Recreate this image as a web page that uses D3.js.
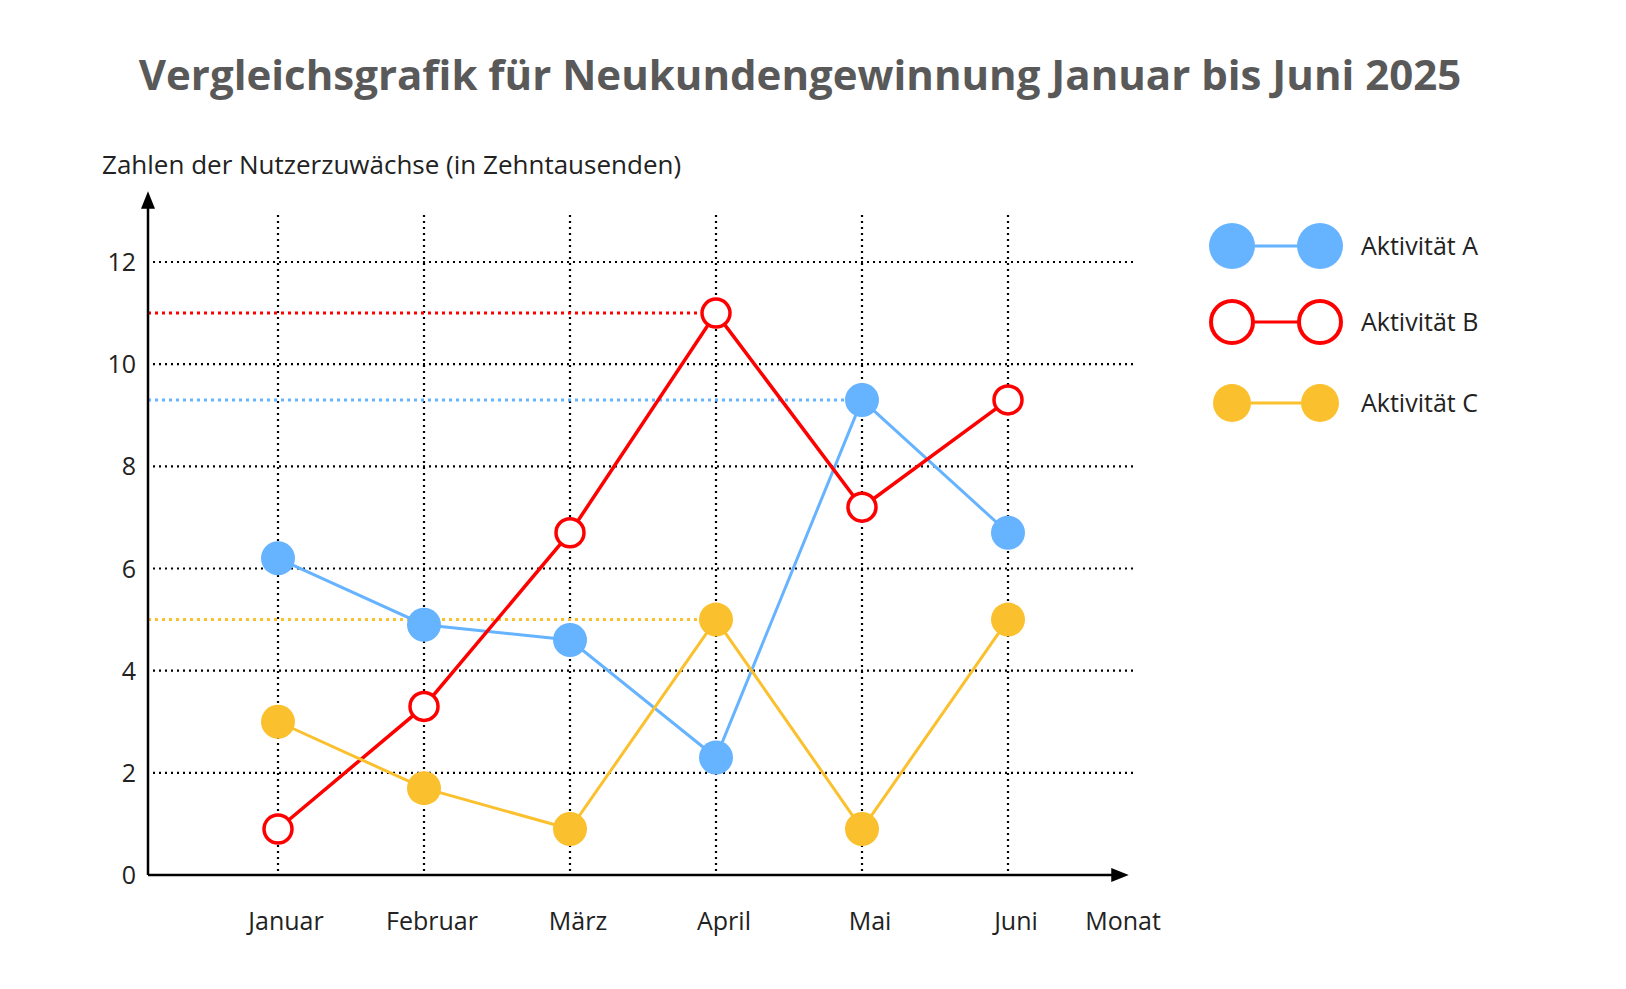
<!DOCTYPE html>
<html>
<head>
<meta charset="utf-8">
<script src="https://cdn.jsdelivr.net/npm/d3@7"></script>
<style>
  body { margin: 0; background: #fff; }
  text { font-family: "Open Sans", "Noto Sans", sans-serif; }
</style>
</head>
<body>
<svg id="chart" width="1626" height="989"></svg>
<script>
const months = ["Januar", "Februar", "März", "April", "Mai", "Juni"];
const yTicks = [0, 2, 4, 6, 8, 10, 12];
const seriesA = [6.2, 4.9, 4.6, 2.3, 9.3, 6.7];
const seriesB = [0.9, 3.3, 6.7, 11, 7.2, 9.3];
const seriesC = [3.0, 1.7, 0.9, 5.0, 0.9, 5.0];
const seriesNames = ["Aktivität A", "Aktivität B", "Aktivität C"];
const colors = ["#66b3ff", "#ff0000", "#fbc02d"];

const svg = d3.select("#chart");
const x0 = 148, yBase = 875;

const x = d3.scalePoint().domain(months).range([278, 1008]);
const y = d3.scaleLinear().domain([0, 12]).range([yBase, 262]);

svg.append("text").attr("x", 800).attr("y", 90).attr("text-anchor", "middle")
  .attr("font-size", 42).attr("font-weight", "bold").attr("fill", "#595959")
  .text("Vergleichsgrafik für Neukundengewinnung Januar bis Juni 2025");

svg.append("text").attr("x", 102).attr("y", 174).attr("font-size", 26).attr("fill", "#222")
  .text("Zahlen der Nutzerzuwächse (in Zehntausenden)");

// grid
svg.selectAll(".hgrid").data(yTicks.slice(1)).join("line")
  .attr("x1", x0 + 5).attr("x2", 1135)
  .attr("y1", d => y(d)).attr("y2", d => y(d))
  .attr("stroke", "#000").attr("stroke-width", 2.2).attr("stroke-dasharray", "2,4");
svg.selectAll(".vgrid").data(months).join("line")
  .attr("x1", d => x(d)).attr("x2", d => x(d))
  .attr("y1", 215).attr("y2", yBase)
  .attr("stroke", "#000").attr("stroke-width", 2.2).attr("stroke-dasharray", "2,4");

// reference lines
const refs = [[seriesB, 3, 1], [seriesA, 4, 0], [seriesC, 3, 2]];
refs.forEach(([s, i, c]) => {
  svg.append("line").attr("x1", x0).attr("x2", x(months[i]))
    .attr("y1", y(s[i])).attr("y2", y(s[i]))
    .attr("stroke", colors[c]).attr("stroke-width", 3).attr("stroke-dasharray", "3,4");
});

// axes
svg.append("defs").append("marker").attr("id", "arr").attr("viewBox", "0 0 10 10")
  .attr("refX", 5).attr("refY", 5).attr("markerWidth", 7).attr("markerHeight", 7)
  .attr("orient", "auto-start-reverse")
  .append("path").attr("d", "M0,1 L10,5 L0,9 z").attr("fill", "#000");
svg.append("line").attr("x1", x0).attr("x2", x0).attr("y1", yBase).attr("y2", 200)
  .attr("stroke", "#000").attr("stroke-width", 2.5).attr("marker-end", "url(#arr)");
svg.append("line").attr("x1", x0).attr("x2", 1120).attr("y1", yBase).attr("y2", yBase)
  .attr("stroke", "#000").attr("stroke-width", 2.5).attr("marker-end", "url(#arr)");

svg.selectAll(".ylab").data(yTicks).join("text")
  .attr("x", 136).attr("y", d => y(d) + 9).attr("text-anchor", "end")
  .attr("font-size", 25).attr("fill", "#222").text(d => d);
svg.selectAll(".xlab").data(months).join("text")
  .attr("x", d => x(d) + 8).attr("y", 930).attr("text-anchor", "middle")
  .attr("font-size", 25).attr("fill", "#222").text(d => d);
svg.append("text").attr("x", 1123).attr("y", 930).attr("text-anchor", "middle")
  .attr("font-size", 25).attr("fill", "#222").text("Monat");

// series
const line = d3.line().x((d, i) => x(months[i])).y(d => y(d));
[seriesA, seriesB, seriesC].forEach((s, k) => {
  svg.append("path").attr("d", line(s)).attr("fill", "none")
    .attr("stroke", colors[k]).attr("stroke-width", k === 1 ? 3.5 : 3);
  svg.selectAll(".pt" + k).data(s).join("circle")
    .attr("cx", (d, i) => x(months[i])).attr("cy", d => y(d))
    .attr("r", k === 1 ? 14 : 17)
    .attr("fill", k === 1 ? "#fff" : colors[k])
    .attr("stroke", k === 1 ? colors[k] : "none").attr("stroke-width", 3.5);
});

// legend
const legY = [246, 322, 403];
seriesNames.forEach((n, k) => {
  const g = svg.append("g").attr("transform", `translate(0,${legY[k]})`);
  const r = k === 2 ? 19 : 23;
  g.append("line").attr("x1", 1232).attr("x2", 1320).attr("stroke", colors[k]).attr("stroke-width", 3);
  [1232, 1320].forEach(cx => g.append("circle").attr("cx", cx).attr("r", k === 1 ? 21 : r)
    .attr("fill", k === 1 ? "#fff" : colors[k])
    .attr("stroke", k === 1 ? colors[k] : "none").attr("stroke-width", 4));
  g.append("text").attr("x", 1361).attr("y", 9).attr("font-size", 25).attr("fill", "#222").text(n);
});
</script>
</body>
</html>
